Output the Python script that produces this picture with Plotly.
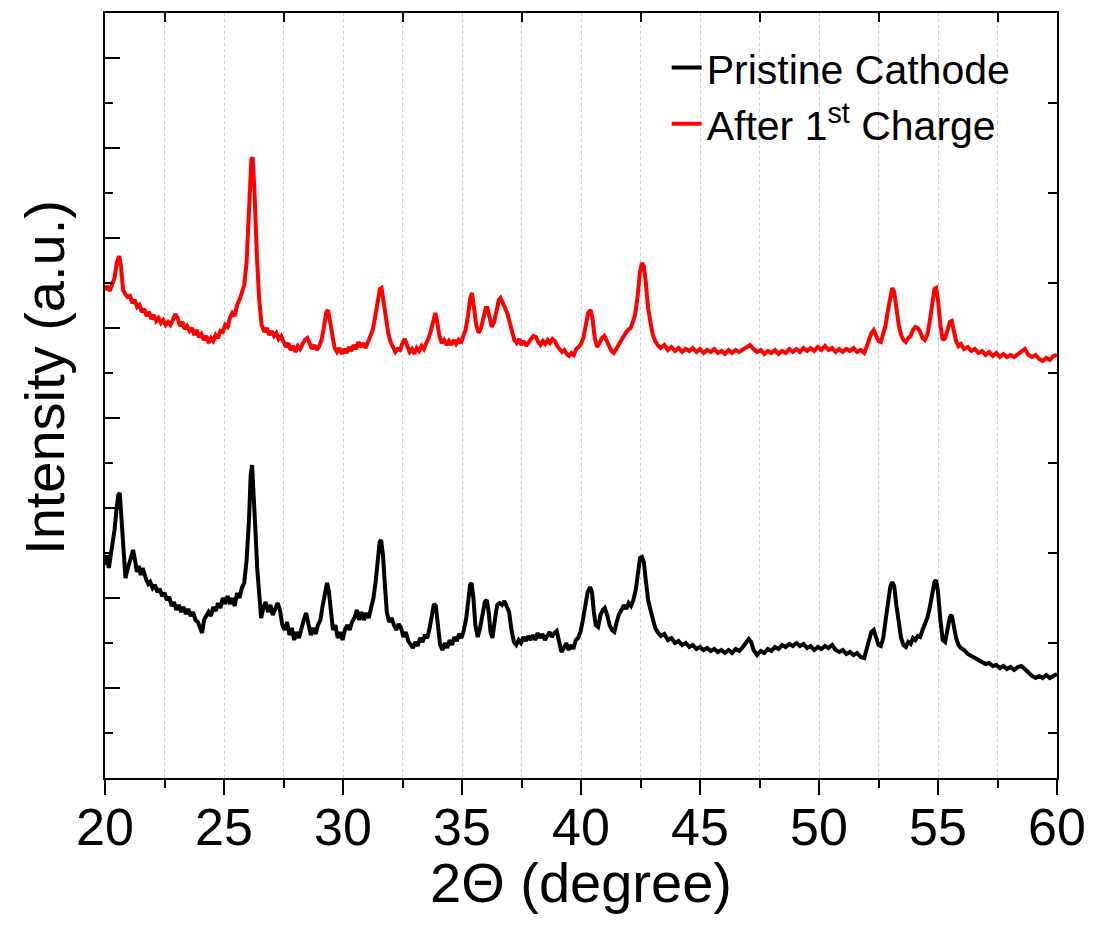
import plotly.graph_objects as go

# ---- data (2-theta in degrees, intensity in arbitrary units) ----
pristine_points = [
    (20.00, 213), (20.08, 223), (20.16, 210), (20.24, 222), (20.32, 233), (20.40, 248), (20.48, 268),
    (20.56, 283), (20.62, 285), (20.70, 258), (20.78, 218), (20.86, 200), (20.94, 208), (21.02, 216),
    (21.10, 222), (21.18, 228), (21.26, 218), (21.34, 206), (21.42, 212), (21.50, 203), (21.58, 210),
    (21.66, 202), (21.74, 198), (21.82, 194), (21.90, 196), (22.00, 190), (22.10, 193), (22.20, 186),
    (22.30, 189), (22.40, 182), (22.50, 185), (22.60, 178), (22.70, 181), (22.80, 172), (22.90, 176),
    (23.00, 168), (23.10, 173), (23.20, 166), (23.30, 171), (23.40, 164), (23.50, 169), (23.60, 162),
    (23.70, 166), (23.80, 158), (23.90, 156), (24.00, 150), (24.08, 145), (24.16, 158), (24.25, 162),
    (24.35, 166), (24.45, 162), (24.55, 171), (24.65, 167), (24.75, 175), (24.85, 170), (24.95, 180),
    (25.05, 174), (25.15, 182), (25.25, 174), (25.35, 180), (25.45, 172), (25.55, 185), (25.65, 180),
    (25.75, 190), (25.85, 195), (25.95, 218), (26.05, 258), (26.12, 303), (26.18, 313), (26.25, 288),
    (26.32, 248), (26.40, 208), (26.48, 178), (26.56, 160), (26.65, 170), (26.75, 176), (26.85, 166),
    (26.95, 173), (27.05, 163), (27.15, 168), (27.25, 175), (27.35, 168), (27.45, 153), (27.55, 148),
    (27.65, 156), (27.75, 143), (27.85, 150), (27.95, 138), (28.05, 146), (28.15, 140), (28.25, 150),
    (28.35, 158), (28.45, 165), (28.55, 153), (28.65, 143), (28.75, 150), (28.85, 144), (28.95, 153),
    (29.05, 158), (29.15, 173), (29.25, 188), (29.33, 195), (29.40, 188), (29.48, 166), (29.58, 148),
    (29.68, 153), (29.78, 140), (29.88, 146), (29.98, 138), (30.08, 148), (30.18, 153), (30.28, 148),
    (30.38, 156), (30.48, 160), (30.58, 168), (30.68, 158), (30.78, 166), (30.88, 158), (30.98, 165),
    (31.08, 160), (31.18, 170), (31.28, 180), (31.38, 198), (31.46, 223), (31.54, 236), (31.60, 238),
    (31.68, 223), (31.76, 193), (31.84, 166), (31.94, 156), (32.04, 160), (32.14, 153), (32.24, 148),
    (32.34, 154), (32.44, 150), (32.54, 141), (32.64, 146), (32.74, 137), (32.84, 133), (32.94, 130),
    (33.04, 136), (33.14, 132), (33.24, 140), (33.34, 136), (33.44, 143), (33.54, 140), (33.64, 150),
    (33.74, 163), (33.82, 174), (33.90, 172), (33.98, 153), (34.08, 133), (34.18, 128), (34.28, 135),
    (34.38, 130), (34.48, 138), (34.58, 133), (34.68, 141), (34.78, 137), (34.88, 144), (34.98, 140),
    (35.08, 148), (35.18, 160), (35.26, 178), (35.34, 193), (35.40, 195), (35.48, 180), (35.56, 153),
    (35.66, 141), (35.76, 150), (35.86, 163), (35.96, 176), (36.04, 178), (36.12, 166), (36.20, 146),
    (36.28, 140), (36.38, 158), (36.48, 173), (36.58, 175), (36.68, 173), (36.78, 177), (36.88, 171),
    (36.98, 166), (37.08, 148), (37.18, 136), (37.28, 133), (37.38, 138), (37.48, 135), (37.58, 141),
    (37.68, 137), (37.78, 142), (37.88, 138), (37.98, 143), (38.08, 138), (38.18, 145), (38.28, 140),
    (38.38, 144), (38.48, 138), (38.58, 142), (38.68, 146), (38.78, 141), (38.88, 145), (38.98, 147),
    (39.08, 138), (39.18, 126), (39.28, 130), (39.38, 135), (39.48, 128), (39.58, 133), (39.68, 129),
    (39.78, 138), (39.88, 140), (39.98, 146), (40.08, 158), (40.18, 173), (40.28, 186), (40.38, 191),
    (40.46, 186), (40.54, 166), (40.62, 153), (40.72, 151), (40.82, 163), (40.92, 168), (41.00, 170),
    (41.10, 163), (41.20, 153), (41.30, 148), (41.40, 146), (41.50, 156), (41.60, 164), (41.70, 168),
    (41.80, 173), (41.90, 169), (42.00, 175), (42.10, 172), (42.20, 178), (42.30, 188), (42.40, 208),
    (42.48, 220), (42.56, 221), (42.64, 216), (42.72, 198), (42.82, 178), (42.92, 168), (43.02, 158),
    (43.12, 150), (43.22, 146), (43.35, 142), (43.50, 144), (43.65, 138), (43.80, 140), (43.95, 135),
    (44.10, 137), (44.25, 133), (44.40, 135), (44.55, 131), (44.70, 133), (44.85, 129), (45.00, 131),
    (45.15, 128), (45.30, 130), (45.45, 127), (45.60, 129), (45.75, 126), (45.90, 128), (46.05, 125),
    (46.20, 128), (46.35, 125), (46.50, 129), (46.65, 127), (46.80, 131), (46.95, 135), (47.05, 139),
    (47.15, 136), (47.25, 128), (47.40, 123), (47.55, 127), (47.70, 125), (47.85, 129), (48.00, 127),
    (48.15, 131), (48.30, 129), (48.45, 133), (48.60, 131), (48.75, 134), (48.90, 132), (49.05, 135),
    (49.20, 132), (49.35, 134), (49.50, 130), (49.65, 132), (49.80, 128), (49.95, 131), (50.10, 129),
    (50.25, 132), (50.40, 130), (50.55, 133), (50.70, 128), (50.85, 126), (51.00, 128), (51.15, 124),
    (51.30, 126), (51.45, 123), (51.60, 125), (51.75, 121), (51.90, 120), (52.00, 128), (52.10, 138),
    (52.20, 146), (52.30, 148), (52.40, 141), (52.50, 133), (52.60, 132), (52.70, 140), (52.80, 158),
    (52.90, 178), (53.00, 192), (53.08, 196), (53.16, 192), (53.25, 173), (53.35, 153), (53.45, 140),
    (53.55, 133), (53.65, 131), (53.75, 136), (53.85, 134), (53.95, 140), (54.05, 138), (54.15, 142),
    (54.25, 141), (54.35, 148), (54.45, 153), (54.55, 160), (54.65, 170), (54.75, 183), (54.85, 196),
    (54.92, 198), (55.00, 186), (55.10, 158), (55.20, 138), (55.30, 136), (55.40, 148), (55.50, 161),
    (55.58, 163), (55.66, 153), (55.76, 140), (55.86, 133), (55.96, 130), (56.10, 128), (56.25, 124),
    (56.40, 122), (56.55, 120), (56.70, 118), (56.85, 116), (57.00, 114), (57.15, 115), (57.30, 112),
    (57.45, 113), (57.60, 110), (57.75, 112), (57.90, 109), (58.05, 111), (58.20, 108), (58.35, 111),
    (58.50, 112), (58.65, 109), (58.80, 105), (58.95, 102), (59.10, 100), (59.25, 102), (59.40, 100),
    (59.55, 103), (59.70, 100), (59.85, 102), (60.00, 104),
]

charged_points = [
    (20.00, 488), (20.10, 492), (20.20, 487), (20.30, 495), (20.40, 500), (20.50, 516), (20.60, 522),
    (20.68, 510), (20.76, 488), (20.85, 484), (20.95, 481), (21.05, 482), (21.15, 475), (21.25, 478),
    (21.35, 471), (21.45, 473), (21.55, 466), (21.65, 469), (21.75, 462), (21.85, 466), (21.95, 459),
    (22.05, 463), (22.15, 457), (22.25, 460), (22.35, 455), (22.45, 458), (22.55, 453), (22.65, 456),
    (22.75, 453), (22.85, 458), (22.95, 464), (23.05, 460), (23.15, 452), (23.25, 456), (23.35, 449),
    (23.45, 452), (23.55, 447), (23.65, 450), (23.75, 443), (23.85, 448), (23.95, 441), (24.05, 444),
    (24.15, 438), (24.25, 442), (24.35, 435), (24.45, 440), (24.55, 437), (24.65, 443), (24.75, 440),
    (24.85, 447), (24.95, 446), (25.05, 453), (25.15, 451), (25.25, 460), (25.35, 465), (25.45, 462),
    (25.55, 473), (25.65, 478), (25.75, 486), (25.85, 493), (25.95, 516), (26.05, 563), (26.15, 618),
    (26.20, 621), (26.28, 588), (26.38, 523), (26.48, 478), (26.58, 453), (26.70, 446), (26.80, 450),
    (26.90, 443), (27.00, 447), (27.10, 442), (27.20, 445), (27.30, 439), (27.40, 442), (27.50, 435),
    (27.60, 431), (27.70, 435), (27.80, 428), (27.90, 432), (28.00, 426), (28.10, 432), (28.20, 429),
    (28.30, 434), (28.40, 438), (28.50, 440), (28.60, 434), (28.70, 429), (28.80, 433), (28.90, 428),
    (29.00, 432), (29.10, 438), (29.20, 451), (29.30, 466), (29.37, 468), (29.45, 456), (29.55, 440),
    (29.65, 430), (29.75, 426), (29.85, 430), (29.95, 424), (30.05, 429), (30.15, 425), (30.25, 431),
    (30.35, 427), (30.45, 433), (30.55, 429), (30.65, 436), (30.75, 431), (30.85, 435), (30.95, 430),
    (31.05, 436), (31.15, 440), (31.25, 448), (31.35, 461), (31.45, 478), (31.55, 489), (31.62, 490),
    (31.70, 478), (31.80, 458), (31.90, 445), (32.00, 436), (32.10, 431), (32.20, 426), (32.30, 429),
    (32.40, 428), (32.50, 435), (32.60, 439), (32.70, 432), (32.80, 426), (32.90, 429), (33.00, 424),
    (33.10, 430), (33.20, 427), (33.30, 432), (33.40, 429), (33.50, 435), (33.60, 440), (33.70, 448),
    (33.80, 460), (33.88, 465), (33.96, 456), (34.05, 442), (34.15, 435), (34.25, 438), (34.35, 433),
    (34.45, 437), (34.55, 433), (34.65, 438), (34.75, 434), (34.85, 438), (34.95, 435), (35.05, 442),
    (35.15, 448), (35.25, 462), (35.35, 480), (35.42, 485), (35.50, 473), (35.60, 453), (35.70, 445),
    (35.80, 450), (35.90, 460), (36.00, 470), (36.07, 470), (36.15, 460), (36.25, 451), (36.35, 456),
    (36.45, 468), (36.55, 478), (36.62, 480), (36.70, 476), (36.80, 472), (36.90, 465), (37.00, 456),
    (37.10, 445), (37.20, 438), (37.30, 435), (37.40, 439), (37.50, 433), (37.60, 437), (37.70, 432),
    (37.80, 436), (37.90, 439), (38.00, 442), (38.10, 441), (38.20, 436), (38.30, 433), (38.40, 437),
    (38.50, 434), (38.60, 438), (38.70, 435), (38.80, 439), (38.90, 437), (39.00, 432), (39.10, 429),
    (39.20, 426), (39.30, 428), (39.40, 424), (39.50, 422), (39.60, 425), (39.70, 423), (39.80, 429),
    (39.90, 431), (40.00, 434), (40.10, 440), (40.20, 452), (40.30, 465), (40.40, 468), (40.48, 460),
    (40.58, 440), (40.68, 431), (40.78, 435), (40.88, 440), (40.98, 442), (41.08, 437), (41.18, 430),
    (41.28, 427), (41.38, 425), (41.48, 429), (41.58, 433), (41.68, 437), (41.78, 442), (41.88, 445),
    (41.98, 448), (42.08, 450), (42.18, 456), (42.28, 464), (42.38, 482), (42.48, 506), (42.56, 515),
    (42.64, 512), (42.72, 496), (42.82, 470), (42.92, 455), (43.02, 443), (43.12, 437), (43.22, 433),
    (43.35, 430), (43.50, 433), (43.65, 428), (43.80, 431), (43.95, 427), (44.10, 430), (44.25, 426),
    (44.40, 429), (44.55, 427), (44.70, 430), (44.85, 426), (45.00, 429), (45.15, 425), (45.30, 428),
    (45.45, 426), (45.60, 429), (45.75, 425), (45.90, 427), (46.05, 424), (46.20, 428), (46.35, 425),
    (46.50, 428), (46.65, 426), (46.80, 428), (46.95, 430), (47.10, 433), (47.25, 429), (47.40, 426),
    (47.55, 428), (47.70, 424), (47.85, 427), (48.00, 425), (48.15, 428), (48.30, 424), (48.45, 427),
    (48.60, 425), (48.75, 429), (48.90, 426), (49.05, 429), (49.20, 426), (49.35, 430), (49.50, 427),
    (49.65, 430), (49.80, 427), (49.95, 431), (50.10, 428), (50.25, 432), (50.40, 428), (50.55, 430),
    (50.70, 426), (50.85, 429), (51.00, 426), (51.15, 429), (51.30, 427), (51.45, 430), (51.60, 426),
    (51.75, 428), (51.90, 425), (52.00, 431), (52.10, 438), (52.20, 445), (52.30, 448), (52.40, 443),
    (52.50, 437), (52.60, 436), (52.70, 443), (52.80, 453), (52.90, 468), (53.00, 484), (53.08, 490),
    (53.16, 486), (53.25, 470), (53.35, 453), (53.45, 443), (53.55, 438), (53.65, 436), (53.75, 440),
    (53.85, 442), (53.95, 448), (54.05, 451), (54.15, 450), (54.25, 446), (54.35, 440), (54.45, 438),
    (54.55, 443), (54.65, 456), (54.75, 473), (54.85, 489), (54.92, 490), (55.00, 478), (55.10, 453),
    (55.20, 438), (55.30, 440), (55.40, 448), (55.50, 456), (55.58, 457), (55.66, 448), (55.76, 437),
    (55.86, 432), (55.96, 434), (56.10, 429), (56.25, 431), (56.40, 427), (56.55, 429), (56.70, 425),
    (56.85, 427), (57.00, 423), (57.15, 426), (57.30, 422), (57.45, 425), (57.60, 421), (57.75, 424),
    (57.90, 421), (58.05, 423), (58.20, 421), (58.35, 424), (58.50, 427), (58.65, 429), (58.80, 423),
    (58.95, 421), (59.10, 423), (59.25, 419), (59.40, 417), (59.55, 420), (59.70, 418), (59.85, 422),
    (60.00, 423),
]

series_names = ["Pristine Cathode", "After 1<sup>st</sup> Charge"]
series_colors = ["#000000", "#ff0000"]

x_major_ticks = [20, 25, 30, 35, 40, 45, 50, 55, 60]
x_top_ticks = [22.5, 27.5, 32.5, 37.5, 42.5, 47.5, 52.5, 57.5]
y_major_ticks = [0, 90, 180, 270, 360, 450, 540, 630, 720]
y_right_ticks = [45, 135, 225, 315, 405, 495, 585, 675]

x_title = "2\u0398 (degree)"
y_title = "Intensity (a.u.)"

FONT = "Liberation Sans, Arial, sans-serif"

fig = go.Figure()
for pts, name, color in zip([pristine_points, charged_points], series_names, series_colors):
    xs = [p[0] for p in pts]
    ys = [p[1] for p in pts]
    fig.add_trace(go.Scatter(x=xs, y=ys, mode="lines", name=name,
                             line=dict(color=color, width=4)))

# invisible helper trace so the top/right tick axes are drawn
fig.add_trace(go.Scatter(x=[20], y=[0], xaxis="x2", yaxis="y2", mode="markers",
                         marker=dict(opacity=0), showlegend=False, hoverinfo="skip"))

fig.update_layout(
    width=1085, height=920,
    margin=dict(l=97, r=36, t=5, b=150, autoexpand=False),
    paper_bgcolor="white", plot_bgcolor="white",
    font=dict(family=FONT, color="black"),
    showlegend=True,
    legend=dict(x=0.590, y=0.972, xanchor="left", yanchor="top",
                bgcolor="rgba(0,0,0,0)", font=dict(size=41, family=FONT),
                tracegroupgap=0),
    xaxis=dict(
        range=[20, 60], tickvals=x_major_ticks, automargin=False,
        ticks="outside", ticklen=15, tickwidth=2, tickcolor="black",
        showline=True, linewidth=2, linecolor="black", mirror=True,
        showgrid=True, gridcolor="#cccccc", griddash="dot", gridwidth=1,
        zeroline=False,
        tickfont=dict(size=52, family=FONT),
        ticklabelstandoff=-12,
        minor=dict(dtick=2.5, tick0=20, ticks="outside", ticklen=8, tickwidth=2,
                   tickcolor="black", showgrid=True, gridcolor="#cccccc",
                   griddash="dot", gridwidth=1),
    ),
    yaxis=dict(
        range=[0, 765], tickvals=y_major_ticks, showticklabels=False, automargin=False,
        ticks="inside", ticklen=15, tickwidth=2, tickcolor="black",
        showline=True, linewidth=2, linecolor="black", mirror=True,
        showgrid=False, zeroline=False,
        minor=dict(dtick=45, tick0=0, ticks="inside", ticklen=8, tickwidth=2,
                   tickcolor="black", showgrid=False),
    ),
    xaxis2=dict(
        overlaying="x", side="top", range=[20, 60], tickvals=x_top_ticks, automargin=False,
        showticklabels=False, ticks="inside", ticklen=9, tickwidth=2, tickcolor="black",
        showgrid=False, showline=False, zeroline=False,
    ),
    yaxis2=dict(
        overlaying="y", side="right", range=[0, 765], tickvals=y_right_ticks, automargin=False,
        showticklabels=False, ticks="inside", ticklen=9, tickwidth=2, tickcolor="black",
        showgrid=False, showline=False, zeroline=False,
    ),
    annotations=[
        dict(text=x_title, xref="paper", yref="paper", x=0.5, y=-0.137,
             xanchor="center", yanchor="middle", showarrow=False,
             font=dict(size=56, family=FONT, color="black")),
        dict(text=y_title, xref="paper", yref="paper", x=-0.063, y=0.523,
             xanchor="center", yanchor="middle", showarrow=False, textangle=-90,
             font=dict(size=56, family=FONT, color="black")),
    ],
)

fig.write_html("out.html")
